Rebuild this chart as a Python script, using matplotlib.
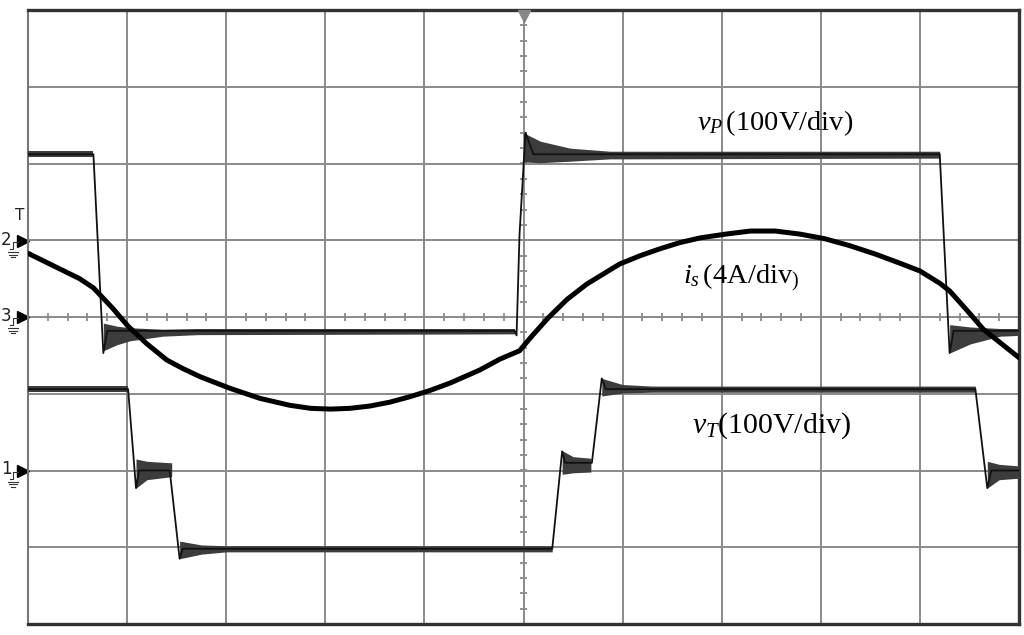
import numpy as np
import matplotlib
matplotlib.use('Agg')
import matplotlib.pyplot as plt

# ---- data read from the scope screen (units: divisions) ----
# v_P trace (thin edges) and noisy flat bands
vp_t = [0, 0.66, 0.76, 0.80, 4.91, 4.93, 4.96, 5.02, 5.10, 9.20, 9.30, 9.34, 10]
vp_v = [2.12, 2.12, -0.47, -0.18, -0.18, -0.24, 1.08, 2.40, 2.12, 2.12, -0.47, -0.18, -0.18]
vp_bands = [
    ([0, 0.66], [2.08, 2.08], [2.16, 2.16]),
    ([0.76, 0.90, 1.03, 1.36, 1.71, 4.91], [-0.44, -0.36, -0.31, -0.25, -0.23, -0.22],
     [-0.08, -0.12, -0.14, -0.16, -0.15, -0.15]),
    ([5.00, 5.17, 5.47, 5.87, 9.20], [2.02, 2.01, 2.03, 2.06, 2.07], [2.40, 2.29, 2.20, 2.16, 2.16]),
    ([9.30, 9.51, 9.81, 10], [-0.47, -0.35, -0.25, -0.24], [-0.10, -0.13, -0.15, -0.15]),
]

# v_T trace and bands
vt_t = [0, 1.01, 1.09, 1.12, 1.43, 1.53, 1.56, 5.29, 5.39, 5.42, 5.69, 5.79, 5.83, 9.56, 9.68, 9.72, 10]
vt_v = [-0.94, -0.94, -2.23, -2.0, -2.0, -3.15, -3.02, -3.02, -1.75, -1.90, -1.90, -0.80, -0.94, -0.94, -2.23, -2.0, -2.0]
vt_bands = [
    ([0, 1.01], [-0.98, -0.98], [-0.90, -0.90]),
    ([1.09, 1.20, 1.45], [-2.23, -2.12, -2.08], [-1.85, -1.88, -1.90]),
    ([1.53, 1.75, 2.00, 5.29], [-3.15, -3.09, -3.06, -3.06], [-2.92, -2.97, -2.98, -2.98]),
    ([5.39, 5.50, 5.68], [-2.05, -2.03, -2.02], [-1.74, -1.82, -1.84]),
    ([5.79, 6.00, 6.30, 9.56], [-1.03, -0.99, -0.98, -0.98], [-0.80, -0.88, -0.90, -0.90]),
    ([9.68, 9.80, 10], [-2.23, -2.12, -2.10], [-1.88, -1.92, -1.94]),
]

# i_s trace
is_t = [0, 0.52, 0.66, 0.85, 1.01, 1.20, 1.40, 1.56, 1.74, 2.04, 2.34, 2.64, 2.85, 3.05,
        3.25, 3.45, 3.65, 3.85, 4.05, 4.26, 4.56, 4.76, 4.96, 5.07, 5.25, 5.44, 5.64,
        5.97, 6.18, 6.38, 6.58, 6.78, 7.04, 7.29, 7.54, 7.79, 8.04, 8.29, 8.55, 8.80,
        9.00, 9.20, 9.30, 9.48, 9.64, 10]
is_v = [0.83, 0.50, 0.38, 0.12, -0.12, -0.35, -0.56, -0.67, -0.78, -0.93, -1.06, -1.15,
        -1.19, -1.20, -1.19, -1.16, -1.11, -1.04, -0.96, -0.86, -0.69, -0.55, -0.44, -0.27,
        -0.01, 0.23, 0.43, 0.69, 0.80, 0.89, 0.97, 1.03, 1.08, 1.12, 1.12, 1.08, 1.02,
        0.93, 0.82, 0.70, 0.60, 0.44, 0.34, 0.08, -0.16, -0.53]

channel_marks = [('2', 0.99), ('3', 0.0), ('1', -2.0)]

plt.rcParams['font.family'] = ['Liberation Serif', 'DejaVu Serif']
plt.rcParams['mathtext.fontset'] = 'custom'
plt.rcParams['mathtext.rm'] = 'Liberation Serif'
plt.rcParams['mathtext.it'] = 'Liberation Serif:italic'

fig = plt.figure(figsize=(10.24, 6.35), dpi=100)
ax = fig.add_axes([28 / 1024, 11 / 635, 991 / 1024, 614 / 635])
ax.set_xlim(0, 10)
ax.set_ylim(-4, 4)
ax.set_xticks([])
ax.set_yticks([])

grid_c = '#8a8a8a'
for x in range(1, 10):
    ax.axvline(x, color=grid_c, lw=1.4, zorder=1)
for y in range(-3, 4):
    ax.axhline(y, color=grid_c, lw=1.4, zorder=1)

# minor ticks on the centre lines
ax.vlines(np.arange(0.2, 10, 0.2), -0.05, 0.05, color=grid_c, lw=1.3, zorder=1)
ax.hlines(np.arange(-3.8, 4, 0.2), 4.96, 5.04, color=grid_c, lw=1.3, zorder=1)

for side in ['top', 'right', 'bottom']:
    ax.spines[side].set_linewidth(2.4)
    ax.spines[side].set_color('#333333')
ax.spines['left'].set_linewidth(1.5)
ax.spines['left'].set_color('#777777')

# trigger marker at the top
ax.plot([5], [3.92], marker='v', ms=9, color='#888888', clip_on=False, zorder=3)

trace_c = '#111111'
band_c = '#3c3c3c'
for t, lo, hi in vp_bands:
    ax.fill_between(t, lo, hi, color=band_c, lw=0, zorder=3)
ax.plot(vp_t, vp_v, color=trace_c, lw=1.3, zorder=4)
for t, lo, hi in vt_bands:
    ax.fill_between(t, lo, hi, color=band_c, lw=0, zorder=3)
ax.plot(vt_t, vt_v, color=trace_c, lw=1.3, zorder=4)
ax.plot(is_t, is_v, color='black', lw=3.6, solid_capstyle='round',
        solid_joinstyle='round', zorder=5)

# labels
ax.text(6.75, 2.53, r'$v_P\,$(100V/div)', fontsize=20.5, ha='left', va='center', zorder=6)
ax.text(6.61, 0.51, r'$i_s\,$(4A/div$_{)}$', fontsize=20.5, ha='left', va='center', zorder=6)
ax.text(6.70, -1.42, r'$v_T$(100V/div)', fontsize=21.5, ha='left', va='center', zorder=6)

# channel markers on the left edge
px = 1 / 99.1
py = 1 / 76.75
for name, lvl in channel_marks:
    ax.plot([-5 * px], [lvl], marker='>', ms=9, color='black', clip_on=False)
    ax.text(-27 * px, lvl + 1 * py, name, fontsize=12, family='DejaVu Sans', ha='left',
            va='center', color='#222222', clip_on=False)
    ax.plot([-18 * px, -15 * px, -15 * px, -10 * px],
            [lvl - 8 * py, lvl - 8 * py, lvl - 1 * py, lvl - 1 * py],
            color='#333333', lw=0.8, clip_on=False)
    for k, hw in enumerate([5, 3.5, 2]):
        yy = lvl - (11 + 2.5 * k) * py
        ax.plot([(-15 - hw) * px, (-15 + hw) * px], [yy, yy], color='#333333', lw=0.8, clip_on=False)
ax.text(-8 * px, 1.32, 'T', fontsize=11, family='DejaVu Sans', ha='center', va='center',
        color='#222222', clip_on=False)

fig.savefig('out.png', dpi=100, facecolor='white')
